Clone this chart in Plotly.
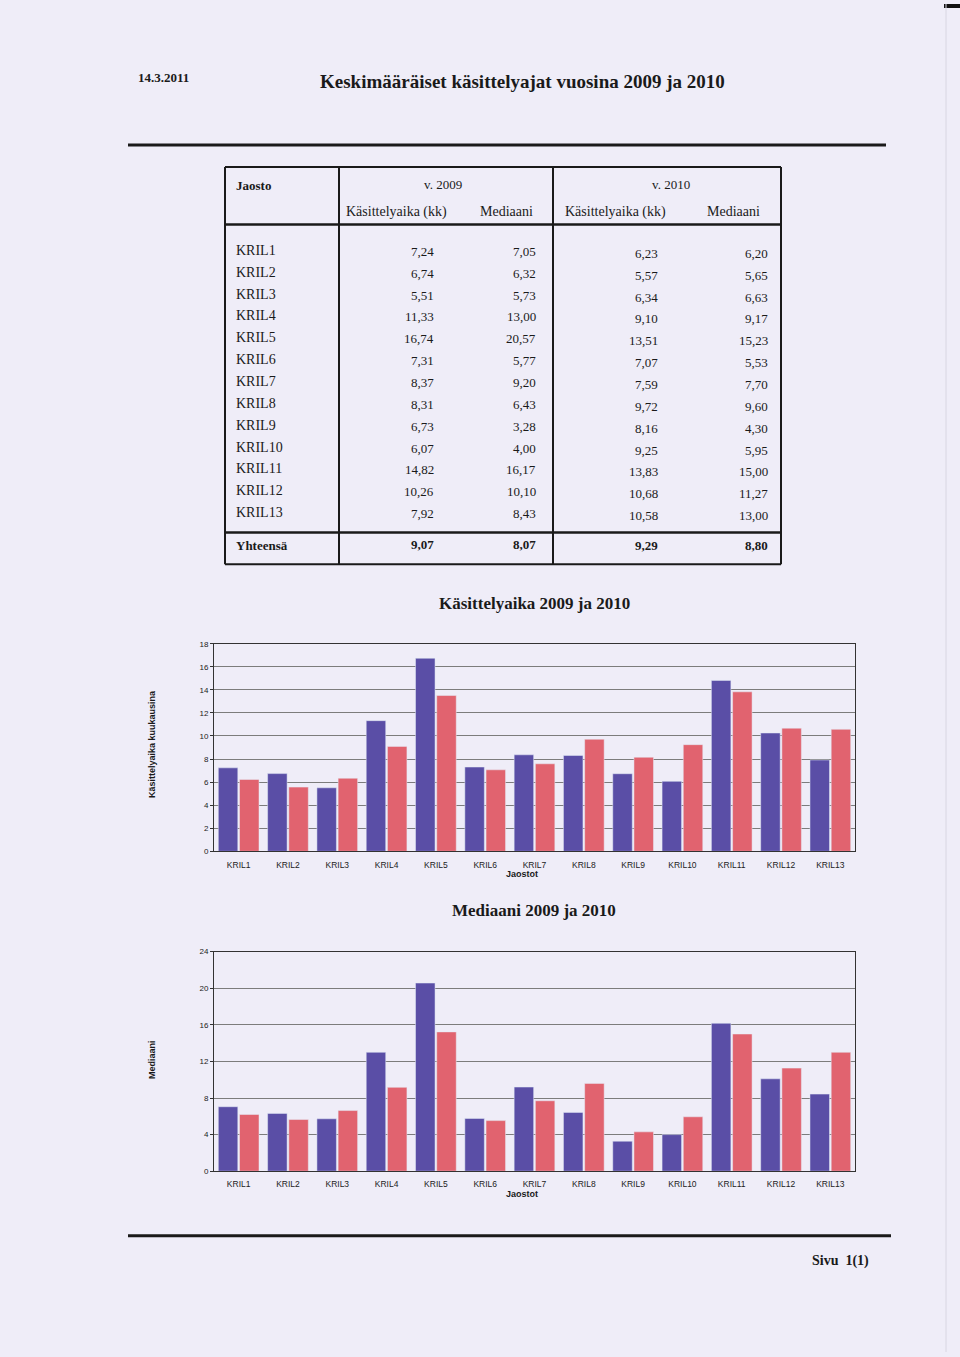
import plotly.graph_objects as go

# ---------------- data ----------------
categories = ["KRIL1", "KRIL2", "KRIL3", "KRIL4", "KRIL5", "KRIL6", "KRIL7",
              "KRIL8", "KRIL9", "KRIL10", "KRIL11", "KRIL12", "KRIL13"]
kasittely_2009 = [7.24, 6.74, 5.51, 11.33, 16.74, 7.31, 8.37, 8.31, 6.73, 6.07, 14.82, 10.26, 7.92]
mediaani_2009 = [7.05, 6.32, 5.73, 13.00, 20.57, 5.77, 9.20, 6.43, 3.28, 4.00, 16.17, 10.10, 8.43]
kasittely_2010 = [6.23, 5.57, 6.34, 9.10, 13.51, 7.07, 7.59, 9.72, 8.16, 9.25, 13.83, 10.68, 10.58]
mediaani_2010 = [6.20, 5.65, 6.63, 9.17, 15.23, 5.53, 7.70, 9.60, 4.30, 5.95, 15.00, 11.27, 13.00]
totals = [9.07, 8.07, 9.29, 8.80]
y1_ticks = [0, 2, 4, 6, 8, 10, 12, 14, 16, 18]
y2_ticks = [0, 4, 8, 12, 16, 20, 24]

# ---------------- style ----------------
W, H = 960, 1357
BG = "#efedf8"
BLUE = "#5a4ea6"
PINK = "#e1636f"
SERIF = "Liberation Serif, Times New Roman, serif"
SANS = "Liberation Sans, Arial, sans-serif"
INK = "#1a1a1a"


def px(x):
    return x / W


def py(y):
    return 1 - y / H


def fmt(v):
    return f"{v:.2f}".replace(".", ",")


fig = go.Figure()

# bar charts
fig.add_trace(go.Bar(x=categories, y=kasittely_2009, name="2009", marker_color=BLUE,
                     xaxis="x", yaxis="y", showlegend=False))
fig.add_trace(go.Bar(x=categories, y=kasittely_2010, name="2010", marker_color=PINK,
                     xaxis="x", yaxis="y", showlegend=False))
fig.add_trace(go.Bar(x=categories, y=mediaani_2009, name="2009", marker_color=BLUE,
                     xaxis="x2", yaxis="y2", showlegend=False))
fig.add_trace(go.Bar(x=categories, y=mediaani_2010, name="2010", marker_color=PINK,
                     xaxis="x2", yaxis="y2", showlegend=False))

annotations = []
shapes = []


def text(x, y, s, size=13, font=SERIF, bold=False, xanchor="center", angle=0, color=INK):
    annotations.append(dict(
        x=px(x), y=py(y), xref="paper", yref="paper", showarrow=False,
        text=f"<b>{s}</b>" if bold else s, xanchor=xanchor, yanchor="middle",
        textangle=angle, font=dict(family=font, size=size, color=color)))


def line(x0, y0, x1, y1, w=2, color=INK):
    shapes.append(dict(type="line", xref="paper", yref="paper",
                       x0=px(x0), y0=py(y0), x1=px(x1), y1=py(y1),
                       line=dict(color=color, width=w)))


# header
text(136, 74, "14.3.2011", size=13, bold=True, xanchor="left")
text(522, 78, "Keskimääräiset käsittelyajat vuosina 2009 ja 2010", size=19, bold=True)
line(128, 142, 886, 142, w=3)

# table frame
TL, C1, C2, TR = 225, 339, 553, 781
TT, HB, TOT, TB = 164, 222, 532, 564
line(TL, TT, TR, TT)
line(TL, TB, TR, TB)
line(TL, TT, TL, TB)
line(TR, TT, TR, TB)
line(C1, TT, C1, TB)
line(C2, TT, C2, TB)
line(TL, HB, TR, HB, w=2.5)
line(TL, TOT, TR, TOT, w=2.5)

# table header text
text(234, 183, "Jaosto", size=13, bold=True, xanchor="left")
text(443, 182, "v. 2009", size=13)
text(671, 182, "v. 2010", size=13)
text(396, 209, "Käsittelyaika (kk)", size=14)
text(506, 209, "Mediaani", size=14)
text(615, 209, "Käsittelyaika (kk)", size=14)
text(733, 209, "Mediaani", size=14)

# table rows
cols = [(436, kasittely_2009, 0), (538, mediaani_2009, 0),
        (660, kasittely_2010, 2), (770, mediaani_2010, 2)]
for i, cat in enumerate(categories):
    yrow = 248 + 22 * i
    text(234, yrow, cat, size=14, xanchor="left")
    for xr, vals, off in cols:
        text(xr, yrow + 1 + off, fmt(vals[i]), size=13, xanchor="right")
text(234, 545, "Yhteensä", size=13, bold=True, xanchor="left")
for (xr, _, off), tv in zip(cols, totals):
    text(xr, 544 + off // 2, fmt(tv), size=13, bold=True, xanchor="right")

# chart titles & axis titles
text(534, 604, "Käsittelyaika 2009 ja 2010", size=17, bold=True)
text(152, 745, "Käsittelyaika kuukausina", size=9, font=SANS, bold=True, angle=-90)
text(522, 876, "Jaostot", size=9, font=SANS, bold=True)

text(534, 913, "Mediaani 2009 ja 2010", size=17, bold=True)
text(152, 1063, "Mediaani", size=9, font=SANS, bold=True, angle=-90)
text(522, 1198, "Jaostot", size=9, font=SANS, bold=True)

# footer
line(128, 1240, 891, 1240, w=3)
text(810, 1265, "Sivu  1(1)", size=14, bold=True, xanchor="left")

# scan edge mark
shapes.append(dict(type="rect", xref="paper", yref="paper", x0=px(944), x1=px(960),
                   y0=py(4), y1=py(0), fillcolor="#111", line=dict(width=0)))
shapes.append(dict(type="line", xref="paper", yref="paper", x0=px(946), x1=px(946),
                   y0=py(0), y1=py(1357), line=dict(color="#d8d6e2", width=1)))

xaxis_common = dict(showline=True, linecolor="#333", linewidth=1, mirror=True,
                    ticks="outside", ticklen=5, tickcolor="rgba(0,0,0,0)",
                    tickfont=dict(family=SANS, size=8.5, color="#222"),
                    showgrid=False, fixedrange=True)
yaxis_common = dict(showline=True, linecolor="#333", linewidth=1, mirror=True,
                    ticks="outside", ticklen=3, tickcolor="#333",
                    tickfont=dict(family=SANS, size=8, color="#222"),
                    showgrid=True, gridcolor="#7c7c7c", gridwidth=1,
                    zeroline=False, fixedrange=True)

fig.update_layout(
    width=W, height=H, autosize=False,
    margin=dict(l=0, r=0, t=0, b=0),
    paper_bgcolor=BG, plot_bgcolor=BG,
    barmode="group", bargap=0.14, bargroupgap=0.08,
    xaxis=dict(domain=[px(214), px(855)], anchor="y", **xaxis_common),
    yaxis=dict(domain=[py(853), py(644)], anchor="x", range=[0, 18],
               tickvals=y1_ticks, **yaxis_common),
    xaxis2=dict(domain=[px(214), px(855)], anchor="y2", **xaxis_common),
    yaxis2=dict(domain=[py(1175), py(954)], anchor="x2", range=[0, 24],
                tickvals=y2_ticks, **yaxis_common),
    annotations=annotations,
    shapes=shapes,
    showlegend=False,
)

fig.write_html("out.html")
